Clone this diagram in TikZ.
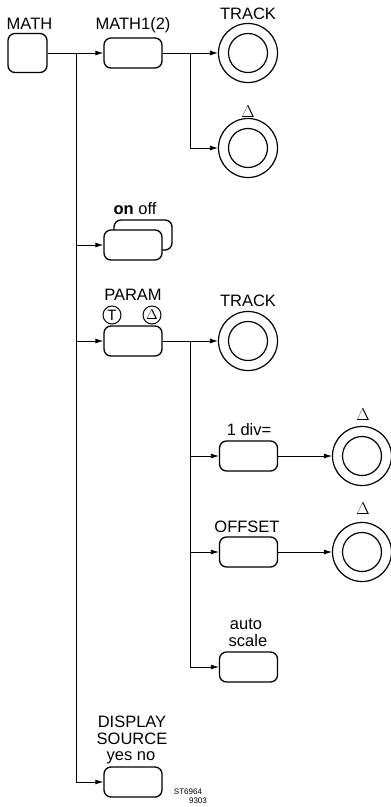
\documentclass[tikz,border=0pt]{standalone}
\usepackage{fontspec}
\setmainfont{Liberation Sans}
\newfontfamily\symf{Liberation Serif}
\usetikzlibrary{arrows.meta}
\begin{document}
\begin{tikzpicture}[x=1pt,y=-1pt,
  keybox/.style={draw,line width=1.3pt,rounded corners=7pt,minimum width=58pt,minimum height=30pt,inner sep=0pt,fill=white},
  knob/.style={draw,line width=1.2pt,circle,minimum size=59pt,inner sep=0pt},
  lbl/.style={anchor=base,inner sep=0pt,font=\fontsize{16.5}{18}\selectfont},
  dlbl/.style={anchor=base,inner sep=0pt,font=\symf\fontsize{17}{18}\selectfont},
  small/.style={anchor=base,inner sep=0pt,font=\fontsize{8}{9}\selectfont},
  conn/.style={line width=0.8pt},
  arr/.style={line width=0.8pt,-{Latex[length=8pt,width=5pt]}},
  mini/.style={draw,line width=1pt,circle,minimum size=18pt,inner sep=0pt,font=\fontsize{15}{16}\selectfont}]
\useasboundingbox (0,0) rectangle (391,807);

% nodes
\node[keybox,minimum width=39pt,minimum height=39pt] (math) at (27.5,53) {};
\node[lbl] (lmath) at (29.5,29.3) {MATH};
\node[keybox] (math1) at (133,53) {};
\node[lbl] (lmath1) at (133,29.3) {MATH1(2)};
\node[knob] (track1) at (248,53) {};
\draw[line width=1.2pt] (track1.center) circle (19.5pt);
\node[lbl] (ltrack1) at (248,19) {TRACK};
\node[knob] (delta1) at (248,148) {};
\draw[line width=1.2pt] (delta1.center) circle (19.5pt);
\node[dlbl] (ldelta1) at (248,117) {$\Delta$};

\node[keybox] (onoffb) at (143,235) {};
\node[keybox] (onoff) at (133,245) {};
\node[lbl] (lonoff) at (135,214) {\textbf{on} off};

\node[keybox] (param) at (133,341) {};
\node[lbl] (lparam) at (133,300) {PARAM};
\node[mini] (pt) at (112,315) {T};
\node[mini,font=\symf\fontsize{14}{15}\selectfont] (pd) at (152,315) {$\Delta$};

\node[knob] (track2) at (248,341) {};
\draw[line width=1.2pt] (track2.center) circle (19.5pt);
\node[lbl] (ltrack2) at (248,306) {TRACK};

\node[keybox] (div) at (248.5,456) {};
\node[lbl] (ldiv) at (249,435) {1 div=};
\node[knob] (delta2) at (362,456) {};
\draw[line width=1.2pt] (delta2.center) circle (19.5pt);
\node[dlbl] (ldelta2) at (363,420) {$\Delta$};

\node[keybox] (offset) at (248.5,552) {};
\node[lbl] (loffset) at (247,532) {OFFSET};
\node[knob] (delta3) at (362,552) {};
\draw[line width=1.2pt] (delta3.center) circle (19.5pt);
\node[dlbl] (ldelta3) at (363,514) {$\Delta$};

\node[keybox] (auto) at (248.5,667) {};
\node[lbl] (lauto) at (246,629) {auto};
\node[lbl] (lscale) at (248,646) {scale};

\node[keybox] (disp) at (133,782) {};
\node[lbl] (ldisp1) at (132,727) {DISPLAY};
\node[lbl] (ldisp2) at (132,744) {SOURCE};
\node[lbl] (ldisp3) at (131,760) {yes no};

\node[small] (st) at (188,794) {ST6964};
\node[small] (nr) at (198,803) {9303};

% coordinates
\coordinate (b1) at (76,53);
\coordinate (b2) at (76,245);
\coordinate (b3) at (76,341);
\coordinate (b4) at (76,782);
\coordinate (c1) at (190,53);
\coordinate (c2) at (190,148);
\coordinate (d1) at (190,341);
\coordinate (d2) at (190,456);
\coordinate (d3) at (190,552);
\coordinate (d4) at (190,667);

% connectors
\draw[conn] (math.east) -- (b1);
\draw[arr] (b1) -- (math1.west);
\draw[arr] (b1) -- (b4) -- (disp.west);
\draw[arr] (b2) -- (onoff.west);
\draw[arr] (b3) -- (param.west);
\draw[conn] (math1.east) -- (c1);
\draw[arr] (c1) -- (track1.west);
\draw[arr] (c1) -- (c2) -- (delta1.west);
\draw[conn] (param.east) -- (d1);
\draw[arr] (d1) -- (track2.west);
\draw[arr] (d1) -- (d4) -- (auto.west);
\draw[arr] (d2) -- (div.west);
\draw[arr] (d3) -- (offset.west);
\draw[arr] (div.east) -- (delta2.west);
\draw[arr] (offset.east) -- (delta3.west);
\end{tikzpicture}
\end{document}
